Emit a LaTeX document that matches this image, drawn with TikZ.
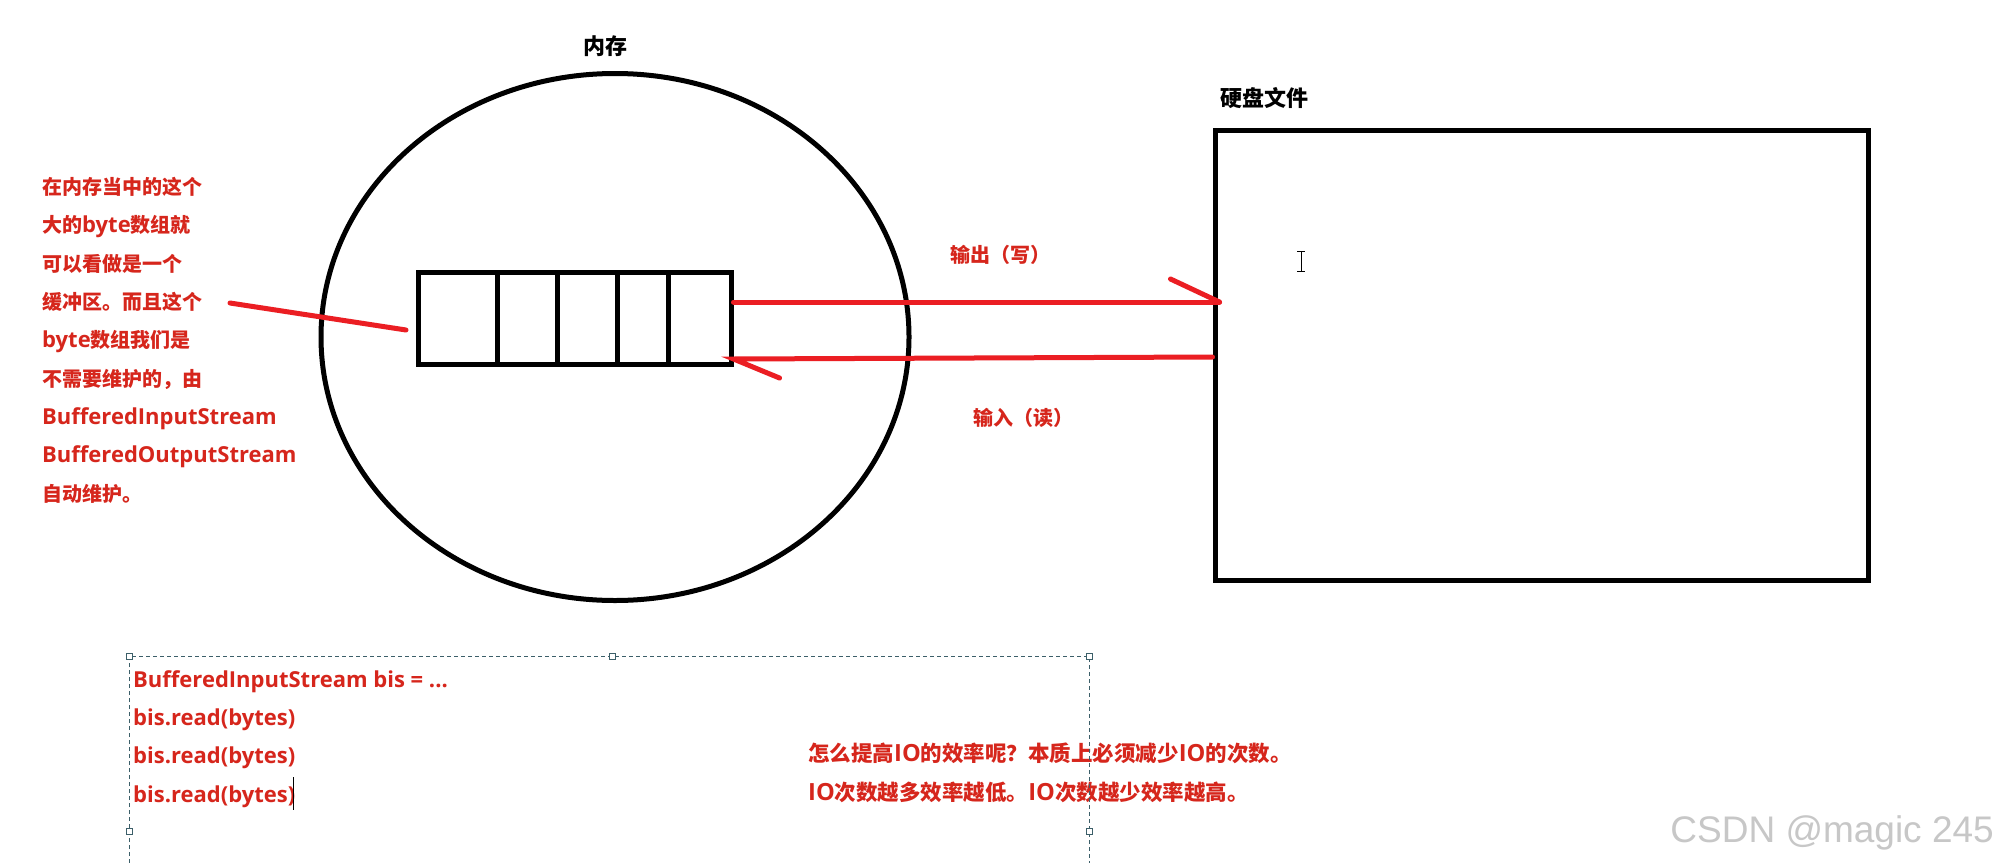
\documentclass[tikz,border=0pt]{standalone}
\usepackage{fontspec}
\setmainfont{Noto Sans CJK SC}
\newfontfamily\latn{Open Sans}[Scale=1.1]
\newfontfamily\wmfont{Liberation Sans}
\usetikzlibrary{shapes.geometric}
\definecolor{txtred}{RGB}{214,38,28}
\definecolor{linered}{RGB}{235,30,35}
\definecolor{selgray}{RGB}{60,95,105}
\tikzset{
  note/.style={text=txtred, font=\bfseries\fontsize{20}{38.3}\selectfont, inner sep=0pt, align=left, anchor=base west},
  title/.style={font=\bfseries\fontsize{22}{25}\selectfont, inner sep=0pt},
  redline/.style={linered, line width=5pt, line cap=round},
  handle/.style={draw=selgray, fill=white, line width=0.8pt, minimum size=6pt, inner sep=0pt},
}
\begin{document}
\begin{tikzpicture}[x=1pt, y=-1pt]
  \useasboundingbox[fill=white] (0,0) rectangle (2004,862);

  % Nodes
  \node[draw, ellipse, line width=5pt, minimum width=588pt, minimum height=527pt, inner sep=0pt] (mem) at (615,337) {};
  \node[title, anchor=base] (memlbl) at (605,54) {内存};
  \node[draw, line width=5pt, minimum width=313pt, minimum height=92pt, inner sep=0pt] (buf) at (574.5,318) {};
  \foreach \x in {497,557,617,668}
    \draw[line width=5pt] (\x,272) -- (\x,364);
  \node[draw, line width=5pt, minimum width=653pt, minimum height=450pt, inner sep=0pt] (disk) at (1541.5,355) {};
  \node[title, anchor=base west] (disklbl) at (1220,106) {硬盘文件};

  % base = last line
  \node[note] (bufnote) at (42,501) {在内存当中的这个\\大的{\latn byte}数组就\\可以看做是一个\\缓冲区。而且这个\\{\latn byte}数组我们是\\不需要维护的，由\\{\latn BufferedInputStream}\\{\latn BufferedOutputStream}\\自动维护。};
  \node[note, anchor=base] (outlbl) at (1000,262) {输出（写）};
  \node[note, anchor=base] (inlbl) at (1023,425) {输入（读）};

  \node[note, font=\bfseries\latn\fontsize{20}{38.3}\selectfont] (code) at (133,802) {BufferedInputStream bis = ...\\bis.read(bytes)\\bis.read(bytes)\\bis.read(bytes)};
  \node[note, font=\bfseries\fontsize{21.5}{38.3}\selectfont] (ioq) at (808,800) {怎么提高{\latn IO}的效率呢？本质上必须减少{\latn IO}的次数。\\{\latn IO}次数越多效率越低。{\latn IO}次数越少效率越高。};

  \node[text=black!22, font=\wmfont\fontsize{37}{40}\selectfont, inner sep=0pt, anchor=base east] (wm) at (1994,842) {CSDN @magic 245};

  % Edges
  \coordinate (outS) at (buf.east |- 0,302);
  \coordinate[xshift=7pt] (outE) at (disk.west |- 0,302);
  \draw[redline] (outS) -- (outE);
  \draw[redline] (outE) -- ++(-49,-23);
  \coordinate (inS) at (disk.west |- 0,357);
  \coordinate (inE) at (buf.east |- 0,359);
  \draw[redline] (inS) -- (inE) -- ++(46,19);
  \coordinate (ptrA) at (230,303);
  \coordinate (ptrB) at (406,330);
  \draw[redline] (ptrA) -- (ptrB);

  % selection frame
  \draw[selgray, line width=1pt, dash pattern=on 4pt off 3pt] (129,870) -- (129,656) -- (1089,656) -- (1089,870);
  \foreach \x/\y [count=\i] in {129/656,612/656,1089/656,129/831,1089/831}
    \node[handle] (h\i) at (\x,\y) {};

  % cursors
  \draw[line width=1pt] (293,777) -- (293,810);
  \draw[line width=1pt] (1301,251) -- (1301,271) (1297,251) -- (1305,251) (1297,271) -- (1305,271);
\end{tikzpicture}
\end{document}
